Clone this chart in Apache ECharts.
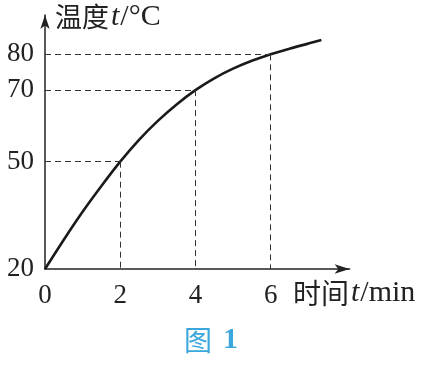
<!DOCTYPE html>
<html>
<head>
<meta charset="utf-8">
<script src="https://cdn.jsdelivr.net/npm/echarts@6/dist/echarts.min.js"></script>
<style>html,body{margin:0;padding:0;background:#fff;}#c{width:421px;height:368px;}</style>
</head>
<body>
<div id="c"></div>
<script>
// Data
const timeMin = [0, 0.5, 1, 1.5, 2, 2.5, 3, 3.5, 4, 4.5, 5, 5.5, 6, 6.5, 7, 7.35];
const tempC = [20, 28.2, 36, 43.2, 50, 56.1, 61.4, 66, 70, 73.3, 76, 78.2, 80, 81.6, 83, 84];
const guideTimes = [2, 4, 6];
const guideTemps = [50, 70, 80];
const xTickLabels = [0, 2, 4, 6];
const yTickLabels = [20, 50, 70, 80];
const yTitle = ['温度', 't', '/°C'];
const xTitle = ['时间', 't', '/min'];
const caption = ['图', '1'];

const yMin = 20;
const chart = echarts.init(document.getElementById('c'), null, {renderer: 'canvas'});
const guideStyle = {color: '#333', width: 1, type: [6, 4]};
const markData = [];
guideTimes.forEach((t, i) => {
  markData.push([{coord: [0, guideTemps[i]]}, {coord: [t, guideTemps[i]]}]);
  markData.push([{coord: [t, guideTemps[i]]}, {coord: [t, yMin]}]);
});
const serif = '"Liberation Serif", "DejaVu Serif", serif';
const cjk = '"Noto Sans CJK SC", sans-serif';
function richTitle(parts) {
  return '{a|' + parts[0] + '}{i|' + parts[1] + '}{s|' + parts[2] + '}';
}
function titleRich(cjkSize, serifSize) {
  return {
    a: {fontFamily: cjk, fontSize: cjkSize, fill: '#222', color: '#222'},
    i: {fontFamily: serif, fontStyle: 'italic', fontSize: serifSize, fill: '#222', color: '#222', padding: [0, 1, 0, 2]},
    s: {fontFamily: serif, fontSize: serifSize, fill: '#222', color: '#222'}
  };
}
chart.setOption({
  animation: false,
  grid: {left: 45, top: 15, right: 71.4, bottom: 99},
  xAxis: {
    type: 'value', min: 0, max: 8.1, interval: 2,
    splitLine: {show: false},
    axisTick: {show: false},
    axisLine: {lineStyle: {color: '#222', width: 1.5}, symbol: ['none', 'arrow'], symbolSize: [7, 15]},
    axisLabel: {
      margin: 13, color: '#222', fontFamily: serif, fontSize: 27,
      formatter: v => xTickLabels.includes(v) ? String(v) : ''
    }
  },
  yAxis: {
    type: 'value', min: yMin, max: 91, interval: 10,
    splitLine: {show: false},
    axisTick: {show: false},
    axisLine: {lineStyle: {color: '#222', width: 1.5}, symbol: ['none', 'arrow'], symbolSize: [7, 14]},
    axisLabel: {
      margin: 11, color: '#222', fontFamily: serif, fontSize: 27,
      formatter: v => yTickLabels.includes(v) ? String(v) : ''
    }
  },
  series: [{
    type: 'line',
    data: timeMin.map((t, i) => [t, tempC[i]]),
    smooth: 0.3,
    showSymbol: false,
    lineStyle: {color: '#1a1a1a', width: 2.6},
    markLine: {
      silent: true, symbol: 'none', animation: false,
      label: {show: false},
      lineStyle: guideStyle,
      data: markData
    }
  }],
  graphic: [
    {type: 'text', left: 55, top: 2, style: {text: richTitle(yTitle), rich: titleRich(27, 30)}},
    {type: 'text', left: 293, top: 278, style: {text: richTitle(xTitle), rich: titleRich(28, 30)}},
    {type: 'text', left: 184, top: 325, style: {
      text: '{a|' + caption[0] + '}{b|' + caption[1] + '}',
      rich: {
        a: {fontFamily: cjk, fontSize: 28, fill: '#3aa6dc', color: '#3aa6dc'},
        b: {fontFamily: serif, fontWeight: 'bold', fontSize: 30, fill: '#3aa6dc', color: '#3aa6dc', padding: [0, 0, 0, 11]}
      }
    }}
  ]
});
</script>
</body>
</html>
